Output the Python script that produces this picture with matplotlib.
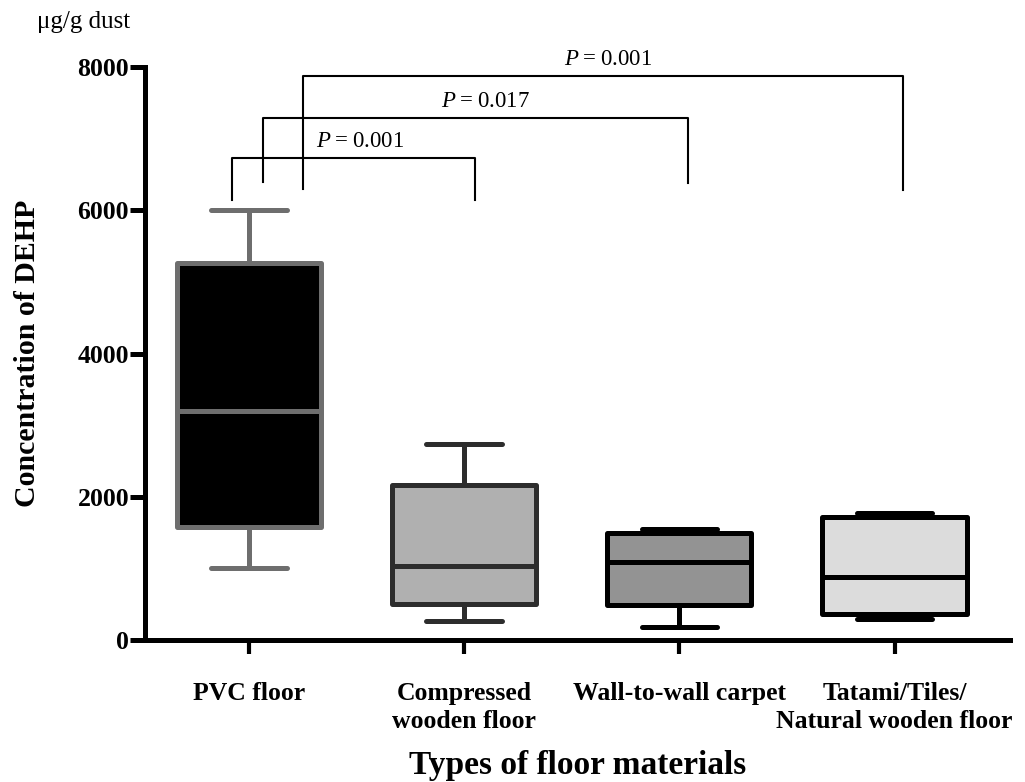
import matplotlib
matplotlib.use("Agg")
import matplotlib.pyplot as plt

plt.rcParams['font.family'] = ['Liberation Serif', 'DejaVu Serif']
plt.rcParams['mathtext.fontset'] = 'custom'
plt.rcParams['mathtext.rm'] = 'Liberation Serif'
plt.rcParams['mathtext.it'] = 'Liberation Serif:italic'

# ---- data ----
categories = ["PVC floor", "Compressed\nwooden floor", "Wall-to-wall carpet",
              "Tatami/Tiles/\nNatural wooden floor"]
whisker_low = [1010, 270, 185, 295]
q1 = [1580, 505, 490, 365]
median = [3200, 1035, 1090, 880]
q3 = [5270, 2165, 1500, 1720]
whisker_high = [6010, 2730, 1555, 1775]
face_colors = ["#000000", "#b0b0b0", "#939393", "#dcdcdc"]
edge_colors = ["#6e6e6e", "#2d2d2d", "#000000", "#000000"]

# significance comparisons: (group a, group b, p-value)
comparisons = [(0, 1, "0.001"), (0, 2, "0.017"), (0, 3, "0.001")]

fig = plt.figure(figsize=(10.25, 7.82), dpi=100)
ax = fig.add_axes([0.1415, 0.1816, 0.8435, 0.7327])

stats = []
for i in range(len(categories)):
    stats.append(dict(med=median[i], q1=q1[i], q3=q3[i],
                      whislo=whisker_low[i], whishi=whisker_high[i], fliers=[]))

positions = list(range(len(categories)))
for i, s in enumerate(stats):
    lw = 3.6
    ax.bxp([s], positions=[positions[i]], widths=0.67, capwidths=0.35,
           showfliers=False, patch_artist=True,
           boxprops=dict(facecolor=face_colors[i], edgecolor=edge_colors[i],
                         linewidth=lw, joinstyle='round'),
           medianprops=dict(color=edge_colors[i], linewidth=lw),
           whiskerprops=dict(color=edge_colors[i], linewidth=lw),
           capprops=dict(color=edge_colors[i], linewidth=lw,
                         solid_capstyle='round'))

ax.set_xlim(-0.483, 3.535)
ax.set_ylim(0, 8000)
ax.set_yticks([0, 2000, 4000, 6000, 8000])
ax.set_xticks(positions)
ax.set_xticklabels(categories, fontsize=18.5, fontweight='bold',
                   linespacing=1.3)
for lab in ax.get_yticklabels():
    lab.set_fontsize(18.5)
    lab.set_fontweight('bold')

for side in ['top', 'right']:
    ax.spines[side].set_visible(False)
for side in ['left', 'bottom']:
    ax.spines[side].set_linewidth(3.6)
ax.tick_params(axis='y', length=10.5, width=3.6, pad=1)
ax.tick_params(axis='x', length=10, width=3.0, pad=20)

ax.set_ylabel("Concentration of DEHP", fontsize=21.5, fontweight='bold',
              labelpad=26)
ax.set_xlabel("Types of floor materials", fontsize=24, fontweight='bold',
              labelpad=12)

fig.text(0.036, 0.972, "\u03bcg/g dust", fontsize=18, ha='left', va='center')

# significance brackets (layout positions)
bracket_y = [6727, 7287, 7874]
left_x = [-0.08, 0.065, 0.25]
left_bottom = [6140, 6392, 6294]
right_x = [1.05, 2.04, 3.04]
right_bottom = [6140, 6377, 6280]
text_x = [0.515, 1.097, 1.667]
for k, (a, b, p) in enumerate(comparisons):
    ax.plot([left_x[k], left_x[k], right_x[k], right_x[k]],
            [left_bottom[k], bracket_y[k], bracket_y[k], right_bottom[k]],
            color='black', linewidth=1.5, clip_on=False, zorder=3)
    ax.text(text_x[k], bracket_y[k] + 230, r"$\it{P}$" + "\u2009=\u2009" + p,
            fontsize=16.5, ha='center', va='center', clip_on=False)

fig.savefig("out.png", dpi=100)
